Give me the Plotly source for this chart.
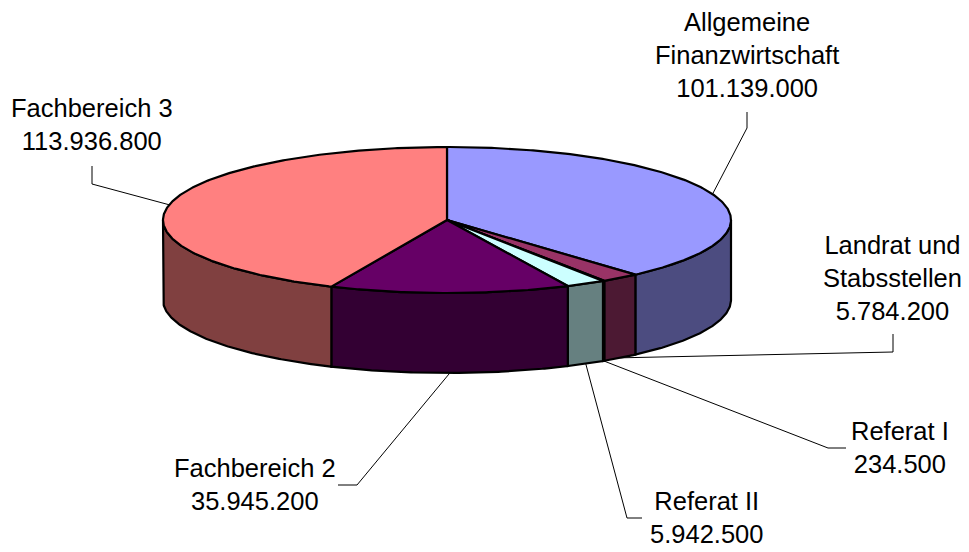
import numpy as np
import plotly.graph_objects as go

# ---------------- data ----------------
categories = ["Allgemeine<br>Finanzwirtschaft", "Landrat und<br>Stabsstellen", "Referat I",
              "Referat II", "Fachbereich 2", "Fachbereich 3"]
values = [101139000, 5784200, 234500, 5942500, 35945200, 113936800]

# ---------------- styles ----------------
top_colors = ["#9999FF", "#993366", "#FFFFCC", "#CCFFFF", "#660066", "#FF8080"]
side_colors = ["#4C4C80", "#4C1933", "#808066", "#668080", "#330033", "#804040"]

# pie geometry (layout, in axis units = page pixels)
CX, CY, RX, RY, DEPTH = 447, 220, 284, 73, 80

# label placement (layout): text centre and leader waypoints from label towards pie
label_pos = [(747, 55), (892, 278), (900, 447.5), (706, 517), (255, 484), (92, 124)]
leader_pts = [
    [(747, 112), (747, 128)],
    [(893, 334), (893, 352)],
    [(846, 448), (828, 448)],
    [(642, 518), (627, 518)],
    [(338, 485), (357, 485)],
    [(92, 166), (92, 184)],
]

# page offset of the figure (default 8px body margin)
OFF = 8


def fmt(v):
    return f"{v:,}".replace(",", ".")


def rim(theta_deg, depth=0.0):
    t = np.radians(theta_deg)
    return CX + RX * np.sin(t), CY - RY * np.cos(t) + depth


total = float(sum(values))
bounds = np.concatenate([[0.0], np.cumsum(values) / total * 360.0])

fig = go.Figure()

# side faces (front half visible: 90..270 deg)
for i in range(len(values)):
    a0, a1 = bounds[i], bounds[i + 1]
    s0, s1 = max(a0, 90.0), min(a1, 270.0)
    if s1 <= s0:
        continue
    th = np.linspace(s0, s1, max(3, int((s1 - s0) * 2)))
    xt, yt = rim(th)
    xb, yb = rim(th[::-1], DEPTH)
    xs = np.concatenate([xt, xb, xt[:1]])
    ys = np.concatenate([yt, yb, yt[:1]])
    fig.add_trace(go.Scatter(x=xs, y=ys, mode="lines", fill="toself",
                             fillcolor=side_colors[i],
                             line=dict(color="black", width=2.2),
                             hoverinfo="skip", showlegend=False))

# top faces
for i in range(len(values)):
    a0, a1 = bounds[i], bounds[i + 1]
    th = np.linspace(a0, a1, max(3, int((a1 - a0) * 2)))
    xa, ya = rim(th)
    xs = np.concatenate([[CX], xa, [CX]])
    ys = np.concatenate([[CY], ya, [CY]])
    fig.add_trace(go.Scatter(x=xs, y=ys, mode="lines", fill="toself",
                             fillcolor=top_colors[i],
                             line=dict(color="black", width=2.2),
                             hoverinfo="skip", showlegend=False))

# leader lines and labels
for i in range(len(values)):
    mid = (bounds[i] + bounds[i + 1]) / 2.0
    front = 90.0 <= mid <= 270.0
    ax, ay = rim(mid, DEPTH if front else 0.0)
    pts = leader_pts[i] + [(float(ax), float(ay))]
    fig.add_trace(go.Scatter(x=[p[0] for p in pts], y=[p[1] for p in pts], mode="lines",
                             line=dict(color="black", width=1),
                             hoverinfo="skip", showlegend=False))
    lx, ly = label_pos[i]
    fig.add_annotation(x=lx, y=ly, xref="x", yref="y", showarrow=False,
                       text=categories[i] + "<br>" + fmt(values[i]),
                       align="center", xanchor="center", yanchor="middle",
                       font=dict(family="Liberation Sans, Arial, sans-serif",
                                 size=25.5, color="black"))

W, H = 969, 552
fig.update_layout(
    width=W, height=H,
    margin=dict(l=0, r=0, t=0, b=0),
    paper_bgcolor="white", plot_bgcolor="white",
    showlegend=False,
    xaxis=dict(range=[OFF, W + OFF], visible=False, fixedrange=True),
    yaxis=dict(range=[H + OFF, OFF], visible=False, fixedrange=True),
)

fig.write_html("out.html")
